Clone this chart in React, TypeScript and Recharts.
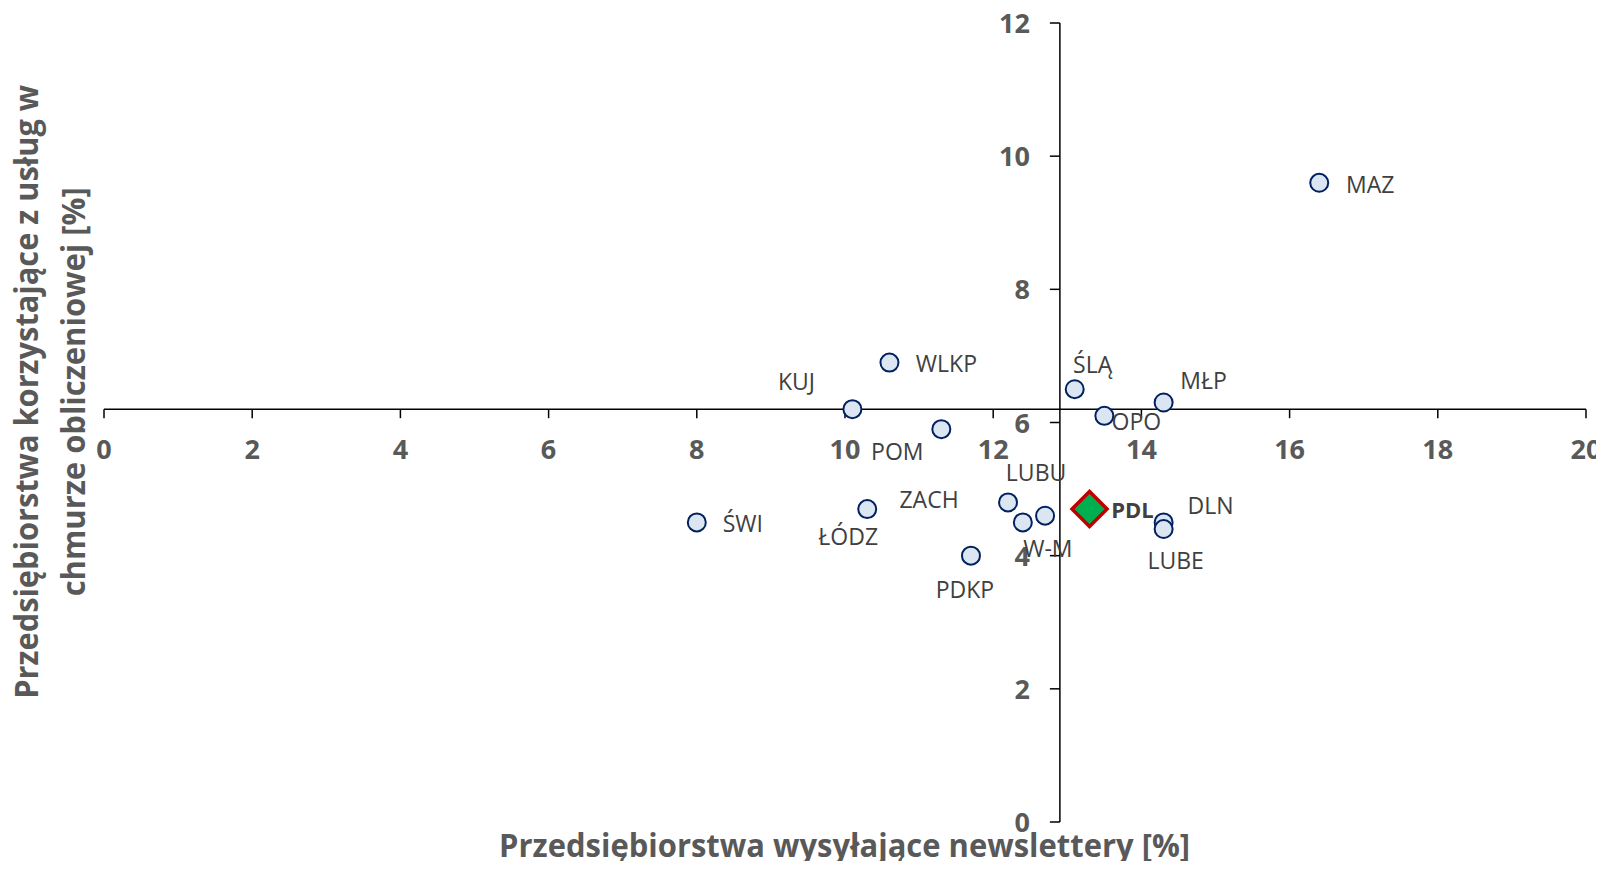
import React from "react";
import { ScatterChart, Scatter, XAxis, YAxis, ReferenceLine, ReferenceDot } from "recharts";

// ---- data ----
const regionNames = ["MAZ", "WLKP", "KUJ", "POM", "ŚLĄ", "MŁP", "OPO", "ŚWI", "ŁÓDZ", "ZACH", "LUBU", "W-M", "PDKP", "DLN", "LUBE"];
const regionX = [16.4, 10.6, 10.1, 11.3, 13.1, 14.3, 13.5, 8.0, 10.3, 12.2, 12.7, 12.4, 11.7, 14.3, 14.3];
const regionY = [9.6, 6.9, 6.2, 5.9, 6.5, 6.3, 6.1, 4.5, 4.7, 4.8, 4.6, 4.5, 4.0, 4.5, 4.4];

const focusNames = ["PDL"];
const focusX = [13.3];
const focusY = [4.7];

const xTicks = [0, 2, 4, 6, 8, 10, 12, 14, 16, 18, 20];
const yTicks = [0, 2, 4, 6, 8, 10, 12];
const xDomain: [number, number] = [0, 20];
const yDomain: [number, number] = [0, 12];
const horizontalAxisAtY = 6.2;
const verticalAxisAtX = 12.9;

const xTitle = "Przedsiębiorstwa wysyłające newslettery [%]";
const yTitleLines = ["Przedsiębiorstwa korzystające z usług w", "chmurze obliczeniowej [%]"];

// ---- label placement (pixel offsets of label centre from marker) ----
const labelOffsets: Record<string, [number, number]> = {
  MAZ: [51, 2],
  WLKP: [57, 1],
  KUJ: [-56, -27],
  POM: [-44, 23],
  "ŚLĄ": [18, -24],
  "MŁP": [40, -22],
  OPO: [32, 6],
  "ŚWI": [46, 2],
  "ŁÓDZ": [-19, 28],
  ZACH: [-79, -2],
  LUBU: [-9, -43],
  "W-M": [25, 27],
  PDKP: [-6, 34],
  DLN: [47, -16],
  LUBE: [12, 32],
  PDL: [43, 1],
};

const regionData = regionNames.map((name, i) => ({ name, x: regionX[i], y: regionY[i] }));
const focusData = focusNames.map((name, i) => ({ name, x: focusX[i], y: focusY[i] }));

const FONT = "'Open Sans', sans-serif";
const LABEL_COLOR = "#404040";
const AXIS_TEXT = "#595959";

const CircleShape = (props: any) => {
  const { cx, cy, payload } = props;
  const off = labelOffsets[payload.name] || [40, 0];
  return (
    <g>
      <circle cx={cx} cy={cy} r={9} fill="#DCE6F2" stroke="#002060" strokeWidth={2} />
      <text
        x={cx + off[0]}
        y={cy + off[1] + 8}
        textAnchor="middle"
        fontFamily={FONT}
        fontSize={23}
        fill={LABEL_COLOR}
      >
        {payload.name}
      </text>
    </g>
  );
};

const DiamondShape = (props: any) => {
  const { cx, cy, payload } = props;
  const off = labelOffsets[payload.name] || [40, 0];
  const h = 17.5;
  return (
    <g>
      <polygon
        points={`${cx},${cy - h} ${cx + h},${cy} ${cx},${cy + h} ${cx - h},${cy}`}
        fill="#00B050"
        stroke="#C00000"
        strokeWidth={3.5}
        strokeLinejoin="miter"
      />
      <text
        x={cx + off[0]}
        y={cy + off[1] + 8}
        textAnchor="middle"
        fontFamily={FONT}
        fontSize={22}
        fontWeight={700}
        fill={LABEL_COLOR}
      >
        {payload.name}
      </text>
    </g>
  );
};

const makeXTick = (label: string) => (props: any) => {
  const { cx, cy } = props;
  return (
    <g>
      <line x1={cx} y1={cy} x2={cx} y2={cy + 9} stroke="#000" strokeWidth={1.5} />
      <text x={cx} y={cy + 50} textAnchor="middle" fontFamily={FONT} fontSize={27} fontWeight={700} fill={AXIS_TEXT}>
        {label}
      </text>
    </g>
  );
};

const makeYTick = (label: string) => (props: any) => {
  const { cx, cy } = props;
  return (
    <g>
      <line x1={cx} y1={cy} x2={cx - 10} y2={cy} stroke="#000" strokeWidth={1.5} />
      <text x={cx - 30} y={cy + 10} textAnchor="end" fontFamily={FONT} fontSize={27} fontWeight={700} fill={AXIS_TEXT}>
        {label}
      </text>
    </g>
  );
};

const W = 1604;
const H = 869;

export default function App() {
  return (
    <div style={{ position: "relative", width: W, height: H, margin: -8 }}>
      <ScatterChart width={W} height={H} margin={{ top: 23, right: 18, bottom: 47, left: 104 }}>
        <XAxis type="number" dataKey="x" domain={xDomain} ticks={xTicks} hide allowDataOverflow />
        <YAxis type="number" dataKey="y" domain={yDomain} ticks={yTicks} hide allowDataOverflow />
        <ReferenceLine y={horizontalAxisAtY} stroke="#000" strokeWidth={1.5} />
        <ReferenceLine x={verticalAxisAtX} stroke="#000" strokeWidth={1.5} />
        {xTicks.map((t) => (
          <ReferenceDot key={"xt" + t} x={t} y={horizontalAxisAtY} r={0} shape={makeXTick(String(t))} ifOverflow="visible" />
        ))}
        {yTicks.map((t) => (
          <ReferenceDot key={"yt" + t} x={verticalAxisAtX} y={t} r={0} shape={makeYTick(String(t))} ifOverflow="visible" />
        ))}
        <Scatter data={regionData} shape={CircleShape} isAnimationActive={false} />
        <Scatter data={focusData} shape={DiamondShape} isAnimationActive={false} />
      </ScatterChart>
      <svg
        width={W}
        height={H}
        style={{ position: "absolute", left: 0, top: 0, pointerEvents: "none" }}
      >
        <text
          x={844.6}
          y={857}
          textAnchor="middle"
          fontFamily={FONT}
          fontSize={32}
          fontWeight={700}
          fill={AXIS_TEXT}
          textLength={691}
          lengthAdjust="spacingAndGlyphs"
        >
          {xTitle}
        </text>
        <text
          x={38}
          y={391.8}
          transform="rotate(-90 38 391.8)"
          textAnchor="middle"
          fontFamily={FONT}
          fontSize={32}
          fontWeight={700}
          fill={AXIS_TEXT}
          textLength={614}
          lengthAdjust="spacingAndGlyphs"
        >
          {yTitleLines[0]}
        </text>
        <text
          x={85}
          y={391.8}
          transform="rotate(-90 85 391.8)"
          textAnchor="middle"
          fontFamily={FONT}
          fontSize={32}
          fontWeight={700}
          fill={AXIS_TEXT}
          textLength={409}
          lengthAdjust="spacingAndGlyphs"
        >
          {yTitleLines[1]}
        </text>
      </svg>
    </div>
  );
}
